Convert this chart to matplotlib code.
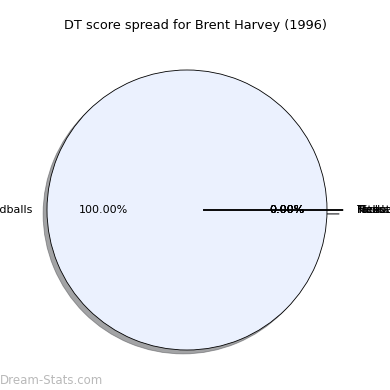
import matplotlib
matplotlib.use('Agg')
import matplotlib.pyplot as plt

# DT score categories for the season
labels = ['Handballs', 'Kicks', 'Marks', 'Tackles', 'Hitouts', 'Frees']
scores = [2, 0, 0, 0, 0, 0]
explode = [0, 0.115, 0.115, 0.115, 0.115, 0.115]
colors = ['#ebf1fe', '#ebf1fe', '#ebf1fe', '#ebf1fe', '#ebf1fe', '#ebf1fe']

W = 390.0
cx, cy, r = 187.0, 180.0, 140.0   # pie centre / radius in pixels (from bottom)
half = 1.3                          # axes half-width in data units
side = half * r

fig = plt.figure(figsize=(3.9, 3.9), dpi=100)
ax = fig.add_axes([(cx - side) / W, (cy - side) / W, 2 * side / W, 2 * side / W])

wedges, texts, autotexts = ax.pie(
    scores, labels=labels, explode=explode, colors=colors,
    autopct='%1.2f%%', shadow=True,
    wedgeprops={'edgecolor': 'black', 'linewidth': 0.6},
    textprops={'fontsize': 8})
ax.set_xlim(-half, half)
ax.set_ylim(-half, half)
ax.set_aspect('auto')
ax.axis('off')

fig.text(0.5, 1 - 25 / W, 'DT score spread for Brent Harvey (1996)',
         fontsize=9.3, ha='center', va='center')
fig.text(0.0, 0.015, 'Dream-Stats.com', color='gray', alpha=0.55, fontsize=8.5)

plt.savefig('out.png', dpi=100)
